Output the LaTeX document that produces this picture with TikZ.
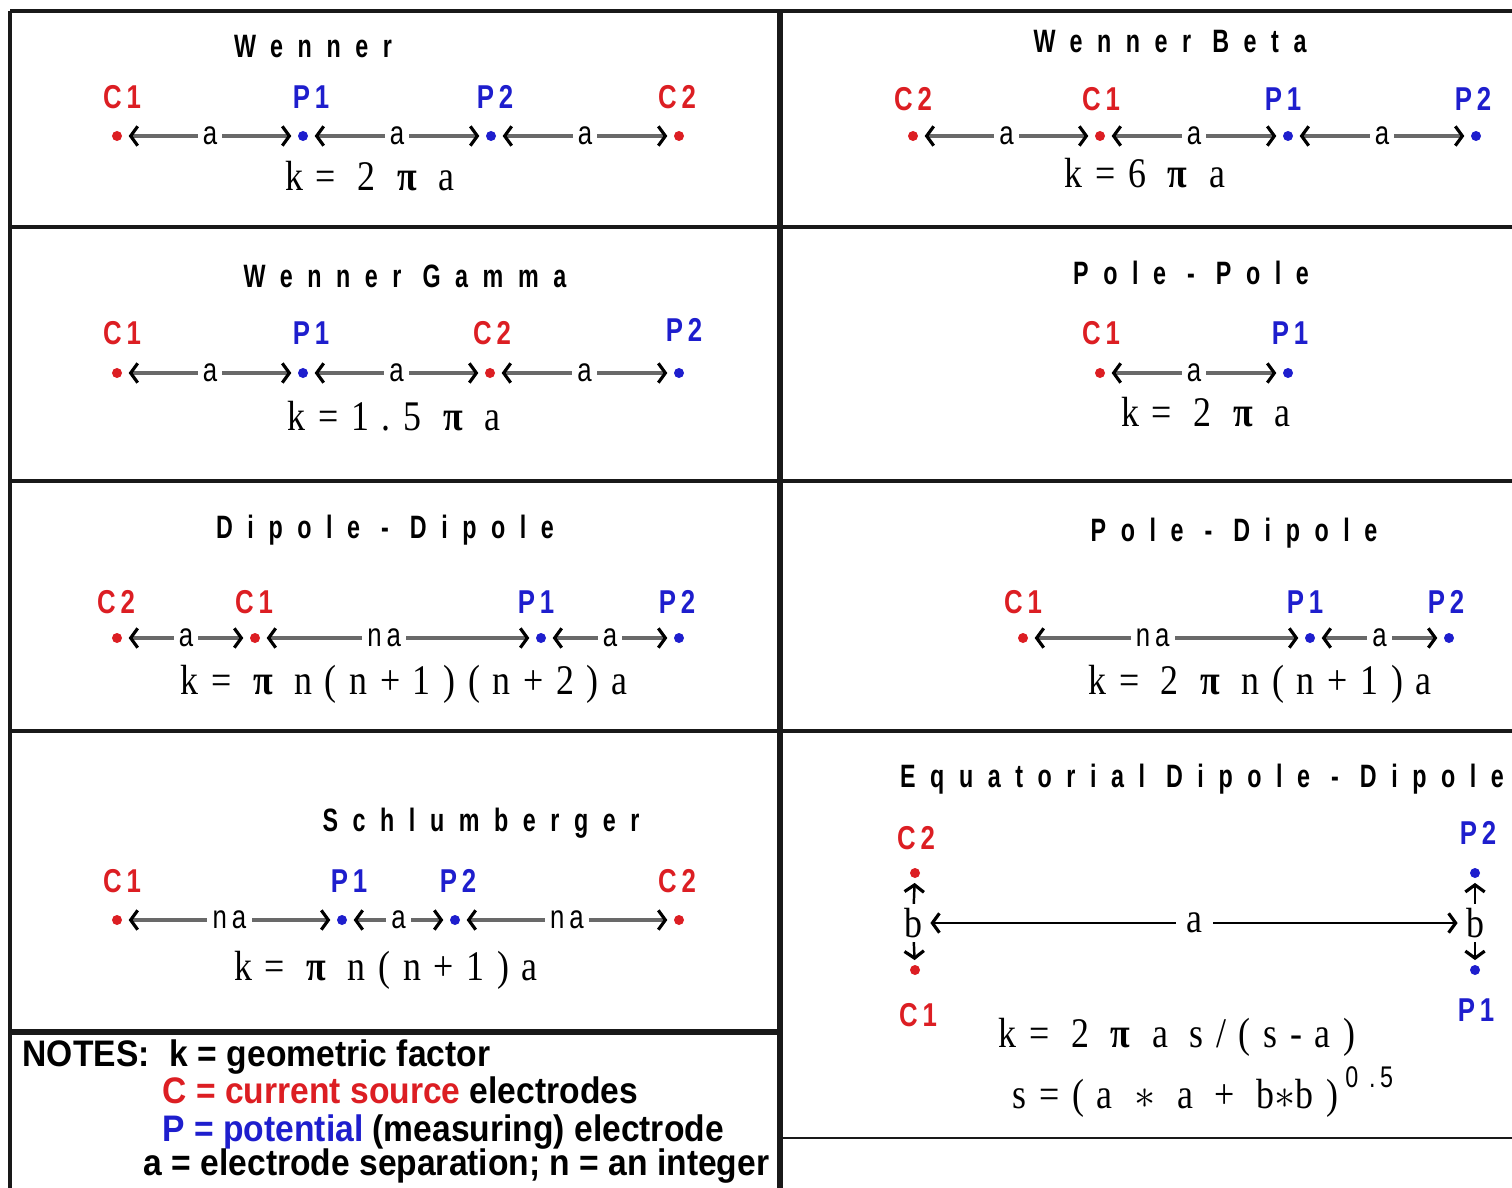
\documentclass[tikz,border=0pt]{standalone}
\usepackage{fontspec}
\usepackage{tikz}
\usetikzlibrary{arrows.meta}
\setmainfont{Liberation Serif}
\newfontfamily\ttlfont{Liberation Sans}[FakeStretch=0.72,LetterSpace=45]
\newfontfamily\elfont{Liberation Sans}[FakeStretch=0.78,LetterSpace=15]
\newfontfamily\kfont{Liberation Serif}[FakeStretch=0.85,LetterSpace=30]
\newfontfamily\notefont{Liberation Sans}[FakeStretch=0.91]
\definecolor{cred}{RGB}{220,30,35}
\definecolor{pblue}{RGB}{30,30,205}
\definecolor{dimgray}{RGB}{105,105,105}
\definecolor{framegray}{RGB}{25,25,25}

\begin{document}
\begin{tikzpicture}[x=0.01cm,y=-0.01cm,
    >={Straight Barb[length=2pt,width=5.5pt,color=black,line width=0.9pt]},
    frame/.style={draw=framegray,line width=1.4pt},
    ttl/.style={font=\ttlfont\bfseries\fontsize{9.2}{11}\selectfont},
    elc/.style={text=cred,font=\elfont\bfseries\fontsize{9.4}{11}\selectfont},
    elp/.style={text=pblue,font=\elfont\bfseries\fontsize{9.4}{11}\selectfont},
    cdot/.style={circle,fill=cred,inner sep=0pt,minimum size=0.1cm},
    pdot/.style={circle,fill=pblue,inner sep=0pt,minimum size=0.1cm},
    sep/.style={<->,draw=dimgray,line width=0.9pt,shorten <=1.7pt,shorten >=1.7pt},
    lbl/.style={fill=white,inner sep=1.5pt,font=\elfont\fontsize{9.4}{11}\selectfont},
    kf/.style={font=\kfont\fontsize{12}{14}\selectfont},
    eqarr/.style={->,draw=black,line width=0.7pt,shorten >=1.2pt},
    note/.style={anchor=base west,inner sep=0pt,font=\notefont\bfseries\fontsize{10.5}{12}\selectfont}]
  \useasboundingbox (0,0) rectangle (1512,1188);

  \draw[frame] (10,11) -- (1512,11);
  \draw[frame,line width=1.1pt] (10,11) -- (10,1188);
  \draw[frame,line width=1.6pt] (780,11) -- (780,1188);
  \draw[frame] (10,227) -- (1512,227);
  \draw[frame] (10,481) -- (1512,481);
  \draw[frame] (10,731) -- (1512,731);
  \draw[frame,line width=1.7pt] (10,1032) -- (780,1032);
  \draw[frame,line width=0.8pt] (780,1138) -- (1512,1138);

  \node[ttl] (t1) at (313,47) {Wenner};
  \node[elc] (w1l) at (122,97) {C1};
  \node[elp] (w2l) at (311,97) {P1};
  \node[elp] (w3l) at (495,97) {P2};
  \node[elc] (w4l) at (677,97) {C2};
  \node[cdot] (w1) at (117,136) {};
  \node[pdot] (w2) at (303,136) {};
  \node[pdot] (w3) at (491,136) {};
  \node[cdot] (w4) at (679,136) {};
  \draw[sep] (w1) -- node[lbl] (wa1) {a} (w2);
  \draw[sep] (w2) -- node[lbl] (wa2) {a} (w3);
  \draw[sep] (w3) -- node[lbl] (wa3) {a} (w4);
  \node[kf] (kw) at (370,176) {k= 2 {\bfseries π} a};

  \node[ttl] (t2) at (1170,42) {Wenner Beta};
  \node[elc] (b1l) at (913,99) {C2};
  \node[elc] (b2l) at (1101,99) {C1};
  \node[elp] (b3l) at (1283,99) {P1};
  \node[elp] (b4l) at (1473,99) {P2};
  \node[cdot] (b1) at (913,136) {};
  \node[cdot] (b2) at (1100,136) {};
  \node[pdot] (b3) at (1288,136) {};
  \node[pdot] (b4) at (1476,136) {};
  \draw[sep] (b1) -- node[lbl] (ba1) {a} (b2);
  \draw[sep] (b2) -- node[lbl] (ba2) {a} (b3);
  \draw[sep] (b3) -- node[lbl] (ba3) {a} (b4);
  \node[kf] (kb) at (1145,173) {k=6 {\bfseries π} a};

  \node[ttl] (t3) at (405,276) {Wenner Gamma};
  \node[elc] (g1l) at (122,333) {C1};
  \node[elp] (g2l) at (311,333) {P1};
  \node[elc] (g3l) at (492,333) {C2};
  \node[elp] (g4l) at (684,330) {P2};
  \node[cdot] (g1) at (117,373) {};
  \node[pdot] (g2) at (303,373) {};
  \node[cdot] (g3) at (490,373) {};
  \node[pdot] (g4) at (679,373) {};
  \draw[sep] (g1) -- node[lbl] (ga1) {a} (g2);
  \draw[sep] (g2) -- node[lbl] (ga2) {a} (g3);
  \draw[sep] (g3) -- node[lbl] (ga3) {a} (g4);
  \node[kf] (kg) at (394,416) {k=1.5 {\bfseries π} a};

  \node[ttl] (t4) at (1191,273) {Pole - Pole};
  \node[elc] (pp1l) at (1101,333) {C1};
  \node[elp] (pp2l) at (1290,333) {P1};
  \node[cdot] (pp1) at (1100,373) {};
  \node[pdot] (pp2) at (1288,373) {};
  \draw[sep] (pp1) -- node[lbl] (ppa) {a} (pp2);
  \node[kf] (kpp) at (1206,412) {k= 2 {\bfseries π} a};

  \node[ttl] (t5) at (385,530) {Dipole - Dipole};
  \node[elc] (d1l) at (116,602) {C2};
  \node[elc] (d2l) at (254,602) {C1};
  \node[elp] (d3l) at (536,602) {P1};
  \node[elp] (d4l) at (677,602) {P2};
  \node[cdot] (d1) at (117,638) {};
  \node[cdot] (d2) at (255,638) {};
  \node[pdot] (d3) at (541,638) {};
  \node[pdot] (d4) at (679,638) {};
  \draw[sep] (d1) -- node[lbl] (da1) {a} (d2);
  \draw[sep] (d2) -- node[lbl,pos=0.45] (da2) {na} (d3);
  \draw[sep] (d3) -- node[lbl] (da3) {a} (d4);
  \node[kf] (kd) at (404,684) {k= {\bfseries π} n(n+1)(n+2)a};

  \node[ttl] (t6) at (1234,533) {Pole - Dipole};
  \node[elc] (pd1l) at (1023,602) {C1};
  \node[elp] (pd2l) at (1305,602) {P1};
  \node[elp] (pd3l) at (1446,602) {P2};
  \node[cdot] (pd1) at (1023,638) {};
  \node[pdot] (pd2) at (1310,638) {};
  \node[pdot] (pd3) at (1449,638) {};
  \draw[sep] (pd1) -- node[lbl,pos=0.45] (pda1) {na} (pd2);
  \draw[sep] (pd2) -- node[lbl] (pda2) {a} (pd3);
  \node[kf] (kpd) at (1260,684) {k= 2 {\bfseries π} n(n+1)a};

  \node[ttl] (t7) at (481,823) {Schlumberger};
  \node[elc] (s1l) at (122,881) {C1};
  \node[elp] (s2l) at (349,881) {P1};
  \node[elp] (s3l) at (458,881) {P2};
  \node[elc] (s4l) at (677,881) {C2};
  \node[cdot] (s1) at (117,920) {};
  \node[pdot] (s2) at (342,920) {};
  \node[pdot] (s3) at (455,920) {};
  \node[cdot] (s4) at (679,920) {};
  \draw[sep] (s1) -- node[lbl] (sa1) {na} (s2);
  \draw[sep] (s2) -- node[lbl] (sa2) {a} (s3);
  \draw[sep] (s3) -- node[lbl] (sa3) {na} (s4);
  \node[kf] (ks) at (386,970) {k= {\bfseries π} n(n+1)a};

  \node[ttl] (t8) at (1202,779) {Equatorial Dipole - Dipole};
  \node[elc] (e1l) at (916,838) {C2};
  \node[elc] (e2l) at (918,1015) {C1};
  \node[elp] (e3l) at (1478,833) {P2};
  \node[elp] (e4l) at (1476,1010) {P1};
  \node[cdot] (e1) at (915,873) {};
  \node[cdot] (e2) at (915,970) {};
  \node[pdot] (e3) at (1475,873) {};
  \node[pdot] (e4) at (1475,970) {};
  \node[kf,inner sep=1pt] (bl) at (913,923) {b};
  \node[kf,inner sep=1pt] (br) at (1475,923) {b};
  \draw[eqarr] (bl) -- (e1);
  \draw[eqarr] (bl) -- (e2);
  \draw[eqarr] (br) -- (e3);
  \draw[eqarr] (br) -- (e4);
  \draw[eqarr,<->,shorten <=1.2pt] (bl) -- node[kf,fill=white,inner sep=3pt] (ea) {a} (br);
  \node[kf] (ke1) at (1177,1037) {k= 2 {\bfseries π} a s/(s-a)};
  \node[kf] (ke2) at (1203,1092) {s=(a $\ast$ a + b$\ast$b)\,\raisebox{1.1ex}{\elfont\fontsize{8.5}{9}\selectfont 0 .5}};

  \node[note] (n1) at (22,1066) {NOTES:\hspace{0.55em}k = geometric factor};
  \node[note] (n2) at (162,1103) {\color{cred}C = current source \color{black}electrodes};
  \node[note] (n3) at (162,1141) {\color{pblue}P = potential \color{black}(measuring) electrode};
  \node[note] (n4) at (143,1175) {a = electrode separation; n = an integer};
\end{tikzpicture}
\end{document}
